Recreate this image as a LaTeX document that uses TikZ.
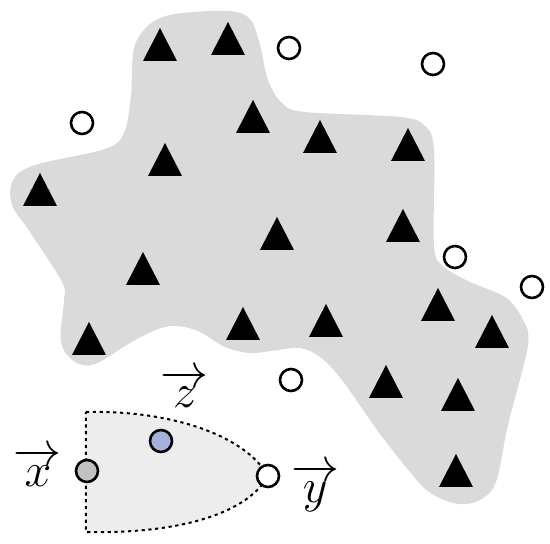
\documentclass[tikz,border=0pt]{standalone}
\usepackage{amsmath}
\usetikzlibrary{positioning}
\definecolor{blobgray}{RGB}{218,218,218}
\definecolor{cellgray}{RGB}{237,237,237}
\definecolor{ptgray}{RGB}{192,194,192}
\definecolor{ptblue}{RGB}{163,177,219}
\begin{document}
\begin{tikzpicture}[x=0.25pt, y=-0.25pt,
    pt/.style={circle, draw, line width=.65pt, fill=white, minimum size=5.5pt, inner sep=0pt},
    vlab/.style={font=\fontsize{12}{14}\selectfont, inner sep=0pt}]
\useasboundingbox (0,0) rectangle (550,544);
\fill[blobgray] plot[smooth cycle, tension=.55] coordinates {
    (131,95) (134,48) (150,24) (175,14) (228,11) (250,19) (260,45) (268,80)
    (282,103) (305,112) (400,117) (425,126) (434,150) (434,245) (443,266)
    (470,282) (505,297) (522,318) (528,345) (508,425) (496,482) (480,500)
    (458,504) (432,494) (415,478) (380,434) (342,380) (320,357) (300,348)
    (278,350) (250,353) (225,347) (200,332) (178,326) (158,329) (130,343)
    (95,364) (75,362) (61,342) (64,300) (62,282) (30,232) (12,205) (13,180)
    (35,165) (105,149) (124,133)};
\foreach \x/\y in {160/28, 228/22, 253/100, 165/143, 40/173, 320/120, 408/128,
    403/209, 277/217, 143/252, 89/322, 243/307, 326/304, 438/288, 492/315,
    386/365, 458/378, 456/454}
    \fill (\x,\y) -- ++(17,33) -- ++(-34,0) -- cycle;
\foreach \x/\y [count=\i] in {82/123, 289/48, 433/64, 455/257, 532/287, 291/380}
    \node[pt] (o\i) at (\x,\y) {};

\coordinate (tl) at (86,412);
\coordinate (bl) at (86,532);
\coordinate (tip) at (268,476);
\draw[fill=cellgray, line width=.5pt, dash pattern=on .8pt off .9pt]
    (tl) .. controls (170,410) and (245,435) .. (tip)
    .. controls (245,517) and (170,534) .. (bl) -- cycle;
\node[pt, fill=ptgray] (px) at (87,471) {};
\node[pt, fill=ptblue] (pz) at (161,441) {};
\node[pt] (py) at (tip) {};
\node[vlab, left=3pt of px, yshift=1pt] (lx) {$\overrightarrow{x}$};
\node[vlab, right=2.5pt of py, yshift=-3pt] (ly) {$\overrightarrow{y}$};
\node[vlab, above=5pt of pz, xshift=6pt] (lz) {$\overrightarrow{z}$};
\end{tikzpicture}
\end{document}
